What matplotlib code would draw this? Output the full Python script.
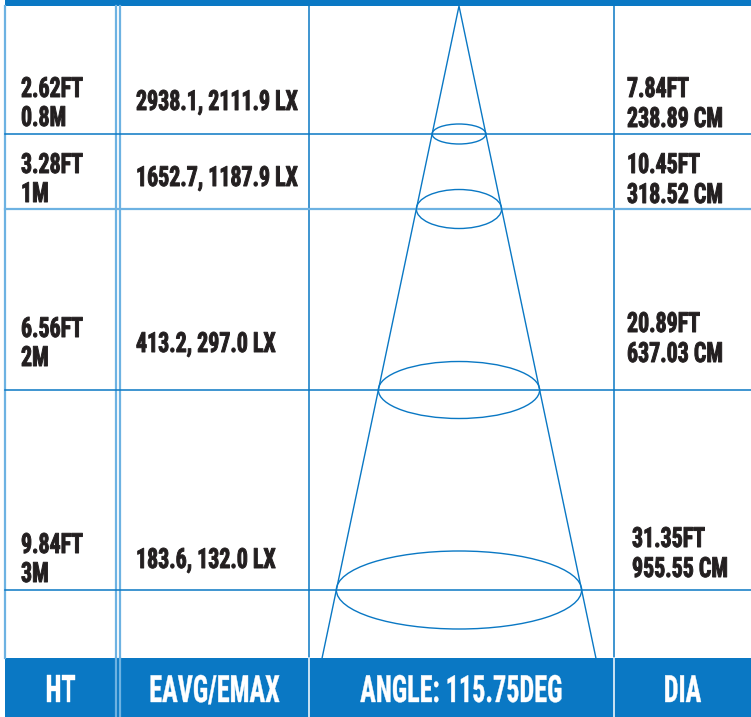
import matplotlib
matplotlib.use('Agg')
import matplotlib.pyplot as plt
import matplotlib.patheffects as pe
from matplotlib import font_manager
from matplotlib.patches import Ellipse, Rectangle
from matplotlib.transforms import Affine2D

# data
ht_ft = ['2.62FT', '3.28FT', '6.56FT', '9.84FT']
ht_m = ['0.8M', '1M', '2M', '3M']
eavg = [2938.1, 1652.7, 413.2, 183.6]
emax = [2111.9, 1187.9, 297.0, 132.0]
dia_ft = [7.84, 10.45, 20.89, 31.35]
dia_cm = [238.89, 318.52, 637.03, 955.55]
angle = 115.75
headers = ['HT', 'EAVG/EMAX', 'ANGLE: %.2fDEG' % angle, 'DIA']

# layout (pixels, y down)
W, H = 751, 717
row_line = [134, 209, 390, 590]
row_light = [False, True, False, False]
ell_h = [20, 39, 57, 78]
top_base = [97, 173, 337, 553]
mid_base = [110, 186, 352, 568]
dia_x = [627, 627, 627, 632]
dia_base = [97, 173, 332, 547]
apex_x, apex_y = 459, 6
slope = 0.21
band_y = 658
col_x = [5, 116, 120, 309, 614, W]

blue = '#0a78c4'
light = '#6db2e2'
ink = '#231f20'

names = {f.name for f in font_manager.fontManager.ttflist}
body_font = 'DejaVu Sans'
for cand in ['Roboto Condensed', 'Liberation Sans Narrow', 'Liberation Sans']:
    if cand in names:
        body_font = cand
        break


class Tall(pe.AbstractPathEffect):
    # stretches glyphs upward from the baseline y0 (display px) and thickens them a bit
    def __init__(self, sy, y0, lw):
        super().__init__()
        self.sy = sy
        self.y0 = y0
        self.lw = lw

    def draw_path(self, renderer, gc, tpath, affine, rgbFace=None):
        t = Affine2D().translate(0, -self.y0).scale(1, self.sy).translate(0, self.y0)
        gc0 = renderer.new_gc()
        gc0.copy_properties(gc)
        gc0.set_linewidth(self.lw)
        gc0.set_foreground(rgbFace)
        gc0.set_joinstyle('round')
        renderer.draw_path(gc0, tpath, affine + t, rgbFace)
        gc0.restore()


fig = plt.figure(figsize=(W / 100, H / 100), dpi=100)
ax = fig.add_axes([0, 0, 1, 1])
ax.set_xlim(0, W)
ax.set_ylim(H, 0)
ax.axis('off')

# top bar and bottom band
ax.add_patch(Rectangle((5, 0), W - 5, 6, color=blue, lw=0))
ax.add_patch(Rectangle((5, band_y), W - 5, H - band_y, color=blue, lw=0))

# grid lines
ax.plot([5, 5], [6, band_y], color=light, lw=1.6)
for x in col_x[1:3]:
    ax.plot([x, x], [6, band_y], color=light, lw=1.6)
    ax.plot([x, x], [band_y, H], color=light, lw=1.6)
for x in col_x[3:5]:
    ax.plot([x, x], [6, band_y], color=blue, lw=1.1)
    ax.plot([x, x], [band_y, H], color='white', lw=1.1)
for y, lt in zip(row_line, row_light):
    ax.plot([5, W], [y, y], color=light if lt else blue, lw=1.6 if lt else 1.1)

# cone
half = slope * (band_y - apex_y)
ax.plot([apex_x - half, apex_x, apex_x + half], [band_y, apex_y, band_y], color=blue, lw=1.0)
for y, h in zip(row_line, ell_h):
    w = 2 * slope * (y - apex_y)
    ax.add_patch(Ellipse((apex_x, y), w, h, fill=False, ec=blue, lw=1.0))

# texts
body = []
for i in range(4):
    body.append(ax.text(21, top_base[i], ht_ft[i], va='baseline'))
    body.append(ax.text(21, top_base[i] + 29, ht_m[i], va='baseline'))
    body.append(ax.text(136, mid_base[i], '%.1f, %.1f LX' % (eavg[i], emax[i]), va='baseline'))
    body.append(ax.text(dia_x[i], dia_base[i], '%.2fFT' % dia_ft[i], va='baseline'))
    body.append(ax.text(dia_x[i], dia_base[i] + 30, '%.2f CM' % dia_cm[i], va='baseline'))
for t in body:
    t.set_fontfamily(body_font)
    t.set_fontweight('bold')
    t.set_fontsize(20)
    t.set_color(ink)

head_cx = [(5 + 116) / 2, (120 + 309) / 2, (309 + 614) / 2, (614 + W) / 2]
head = []
for cx, s in zip(head_cx, headers):
    head.append(ax.text(cx, 702, s, ha='center', va='baseline', color='white',
                        fontfamily=body_font, fontweight='bold', fontsize=27))

# size the fonts to the reference widths, then stretch them to the reference cap height
r = fig.canvas.get_renderer()
fs_body = 20 * 162 / body[2].get_window_extent(r).width
fs_head = 27 * 202 / head[2].get_window_extent(r).width
for t in body:
    t.set_fontsize(fs_body)
    y0 = ax.transData.transform(t.get_position())[1]
    t.set_path_effects([Tall(20 / fs_body, y0, 0.7)])
for t in head:
    t.set_fontsize(fs_head)
    y0 = ax.transData.transform(t.get_position())[1]
    t.set_path_effects([Tall(27 / fs_head, y0, 0.3)])

fig.savefig('out.png', dpi=100)
